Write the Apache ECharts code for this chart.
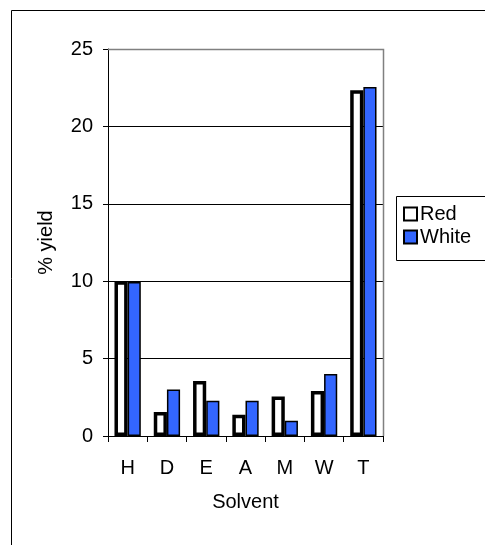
<!DOCTYPE html>
<html><head><meta charset="utf-8">
<script src="https://cdn.jsdelivr.net/npm/echarts@6/dist/echarts.min.js"></script>
<style>html,body{margin:0;padding:0;background:#fff}#c{width:485px;height:545px}</style>
</head><body><div id="c"></div>
<script>
const categories = ['H','D','E','A','M','W','T'];
const redValues = [10.0, 1.55, 3.55, 1.38, 2.55, 2.9, 22.33];
const whiteValues = [9.95, 3.0, 2.28, 2.28, 0.99, 4.0, 22.54];
const yTicks = [0, 5, 10, 15, 20, 25];

const chart = echarts.init(document.getElementById('c'), null, {renderer:'canvas'});
const font = 'Liberation Sans, Arial, sans-serif';
const fs = 20;
chart.setOption({
  animation: false,
  graphic: [
    {type:'rect', shape:{x:11.5,y:10.5,width:490,height:560}, style:{fill:'none',stroke:'#000',lineWidth:1}, z:-10},
    {type:'rect', shape:{x:396.5,y:196.5,width:100,height:64}, style:{fill:'#fff',stroke:'#000',lineWidth:1}, z:-5},
    {type:'polyline', shape:{points:[[108,49.5],[383.5,49.5],[383.5,436]]}, style:{stroke:'#808080',lineWidth:1.5,fill:'none'}, z:5}
  ],
  legend: {
    left: 398, top: 199, orient: 'vertical', itemGap: 3, itemWidth: 13, itemHeight: 13,
    icon: 'rect',
    textStyle: {fontFamily: font, fontSize: fs, color: '#000', padding:[0,0,0,-2]},
    data: ['Red','White']
  },
  grid: {left: 108, top: 49, width: 275, height: 387, containLabel: false},
  xAxis: {
    type: 'category', data: categories,
    name: 'Solvent', nameLocation: 'middle', nameGap: 56,
    nameTextStyle: {fontFamily: font, fontSize: fs, color: '#000'},
    axisLine: {lineStyle: {color: '#000', width: 1}},
    axisTick: {show: true, alignWithLabel: false, length: 6, lineStyle:{color:'#000'}},
    axisLabel: {fontFamily: font, fontSize: fs, color: '#000', margin: 22}
  },
  yAxis: {
    type: 'value', min: 0, max: 25, interval: 5,
    name: '% yield', nameLocation: 'middle', nameGap: 52,
    nameTextStyle: {fontFamily: font, fontSize: fs, color: '#000'},
    axisLine: {show: true, lineStyle: {color: '#000', width: 1}},
    axisTick: {show: true, length: 5, lineStyle:{color:'#000'}},
    axisLabel: {fontFamily: font, fontSize: fs, color: '#000', margin: 15,
      formatter: v => yTicks.includes(v) ? String(v) : ''},
    splitLine: {show: true, lineStyle: {color: '#000', width: 1}}
  },
  series: [
    {name: 'Red', type: 'bar', data: redValues, barGap: '0%', barCategoryGap: '33%',
     itemStyle: {color: '#fff', borderColor: '#000', borderWidth: 3.5}},
    {name: 'White', type: 'bar', data: whiteValues,
     itemStyle: {color: '#3366ff', borderColor: '#000', borderWidth: 1.5}}
  ]
});
</script></body></html>
